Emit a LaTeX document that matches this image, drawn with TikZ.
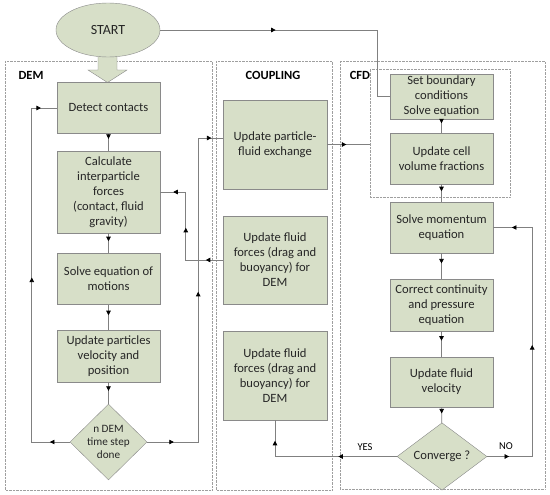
\documentclass[tikz,border=0pt]{standalone}
\usepackage{fontspec}
\setmainfont{Carlito}
\usetikzlibrary{shapes.geometric,arrows.meta,decorations.markings}
\definecolor{boxfill}{HTML}{D7DFC8}
\definecolor{boxline}{HTML}{8A8A8A}
\definecolor{flowgray}{HTML}{808080}
\tikzset{
  stepbox/.style={draw=boxline, fill=boxfill, align=center, minimum width=103pt,
    inner sep=1pt, text=black!85, font=\fontsize{12.6}{15}\selectfont},
  decision/.style={diamond, draw=boxline, fill=boxfill, align=center, inner sep=0pt,
    text=black!85},
  panel/.style={draw=gray!75, densely dotted},
  panelname/.style={font=\bfseries\fontsize{12.5}{14}\selectfont},
  flow/.style={draw=flowgray, line width=0.7pt},
  midtip/.style={postaction={decorate, decoration={markings,
    mark=at position #1 with {\arrow[black]{Triangle[length=4.5pt,width=4.5pt]}}}}}
}

\begin{document}
\begin{tikzpicture}[x=1pt, y=-1pt]
  \useasboundingbox (0,0) rectangle (550,495);

  % Bloques
  \draw[panel] (5,61) rectangle (212,490);
  \draw[panel] (216,61) rectangle (332,490);
  \draw[panel] (340,61) rectangle (545,489);
  \node[panelname] (demlbl) at (31,75) {DEM};
  \node[panelname] (couplbl) at (273,75) {COUPLING};
  \node[panelname] (cfdlbl) at (360,75) {CFD};
  \node[panel, minimum width=140pt, minimum height=128pt] (cfdgrp) at (440,133) {};

  % Inicio
  \draw[draw=boxline, fill=boxfill] (98,50) -- (98,70) -- (88,70) -- (107.5,82.5)
    -- (127,70) -- (117,70) -- (117,50) -- cycle;
  \node[ellipse, draw=boxline, fill=boxfill, minimum width=104pt, minimum height=54pt,
    text=black!85, font=\fontsize{14}{16}\selectfont] (start) at (108,30) {START};

  % DEM
  \node[stepbox, minimum height=51pt] (detect) at (108.5,108) {Detect contacts};
  \node[stepbox, minimum height=82pt] (calc) at (108.5,192)
    {Calculate\\interparticle\\forces\\(contact, fluid\\gravity)};
  \node[stepbox, minimum height=51pt] (motion) at (108.5,279) {Solve equation of\\motions};
  \node[stepbox, minimum height=52pt] (partvel) at (108.5,356)
    {Update particles\\velocity and\\position};
  \node[decision, minimum width=77pt, minimum height=60pt,
    font=\fontsize{11.2}{13}\selectfont] (ndem) at (108.5,442) {n DEM\\time step\\done};

  % Coupling
  \node[stepbox, minimum width=104pt, minimum height=89pt] (coupa) at (275,144.5)
    {Update particle-\\fluid exchange};
  \node[stepbox, minimum width=104pt, minimum height=88pt] (coupb) at (275,260)
    {Update fluid\\forces (drag and\\buoyancy) for\\DEM};
  \node[stepbox, minimum width=104pt, minimum height=89pt] (coupc) at (275,375.5)
    {Update fluid\\forces (drag and\\buoyancy) for\\DEM};

  % CFD
  \node[stepbox, minimum height=45pt] (setbc) at (441.5,96.5)
    {Set boundary\\conditions\\Solve equation};
  \node[stepbox, minimum height=51pt] (cellfr) at (441.5,158.5)
    {Update cell\\volume fractions};
  \node[stepbox, minimum height=51pt] (momentum) at (441.5,227.5)
    {Solve momentum\\equation};
  \node[stepbox, minimum height=52pt] (contin) at (441.5,305)
    {Correct continuity\\and pressure\\equation};
  \node[stepbox, minimum height=50pt] (fluidvel) at (441.5,382)
    {Update fluid\\velocity};
  \node[decision, minimum width=90pt, minimum height=57pt,
    font=\fontsize{12.6}{15}\selectfont] (conv) at (442,456.5) {Converge ?};
  \node[font=\fontsize{10.5}{12}\selectfont] (yes) at (365,447) {YES};
  \node[font=\fontsize{10.5}{12}\selectfont] (no) at (506,446) {NO};

  % Flechas
  \draw[flow, midtip=0.39] (start.east) -- ++(217,0) |- (setbc.west);
  \draw[flow, midtip=0.3] (detect) -- (calc);
  \draw[flow, midtip=0.4] (calc) -- (motion);
  \draw[flow, midtip=0.42] (motion) -- (partvel);
  \draw[flow, midtip=0.4] (partvel) -- (ndem);
  \draw[flow, midtip=0.05, midtip=0.51, midtip=0.96] (ndem.west) -- ++(-38,0) |- (detect.west);
  \draw[flow, midtip=0.07, midtip=0.53, midtip=0.97] (ndem.east) -- ++(51,0)
    |- ([yshift=6.5pt]coupa.west);
  \draw[flow, midtip=0.13, midtip=0.53, midtip=0.9] (coupb.west) -- ++(-37,0) |- (calc.east);
  \draw[flow, midtip=0.45] (coupa.east) -- (coupa.east -| cfdgrp.west);
  \draw[flow, midtip=0.3] (setbc) -- (cellfr);
  \draw[flow, midtip=0.4] (cellfr) -- (momentum);
  \draw[flow, midtip=0.4] (momentum) -- (contin);
  \draw[flow, midtip=0.37] (contin) -- (fluidvel);
  \draw[flow, midtip=0.4] (fluidvel) -- (conv);
  \draw[flow, midtip=0.37, midtip=0.87] (conv.west) -| (coupc.south);
  \draw[flow, midtip=0.07, midtip=0.5, midtip=0.94] (conv.east) -- ++(45,0) |- (momentum.east);
\end{tikzpicture}
\end{document}
